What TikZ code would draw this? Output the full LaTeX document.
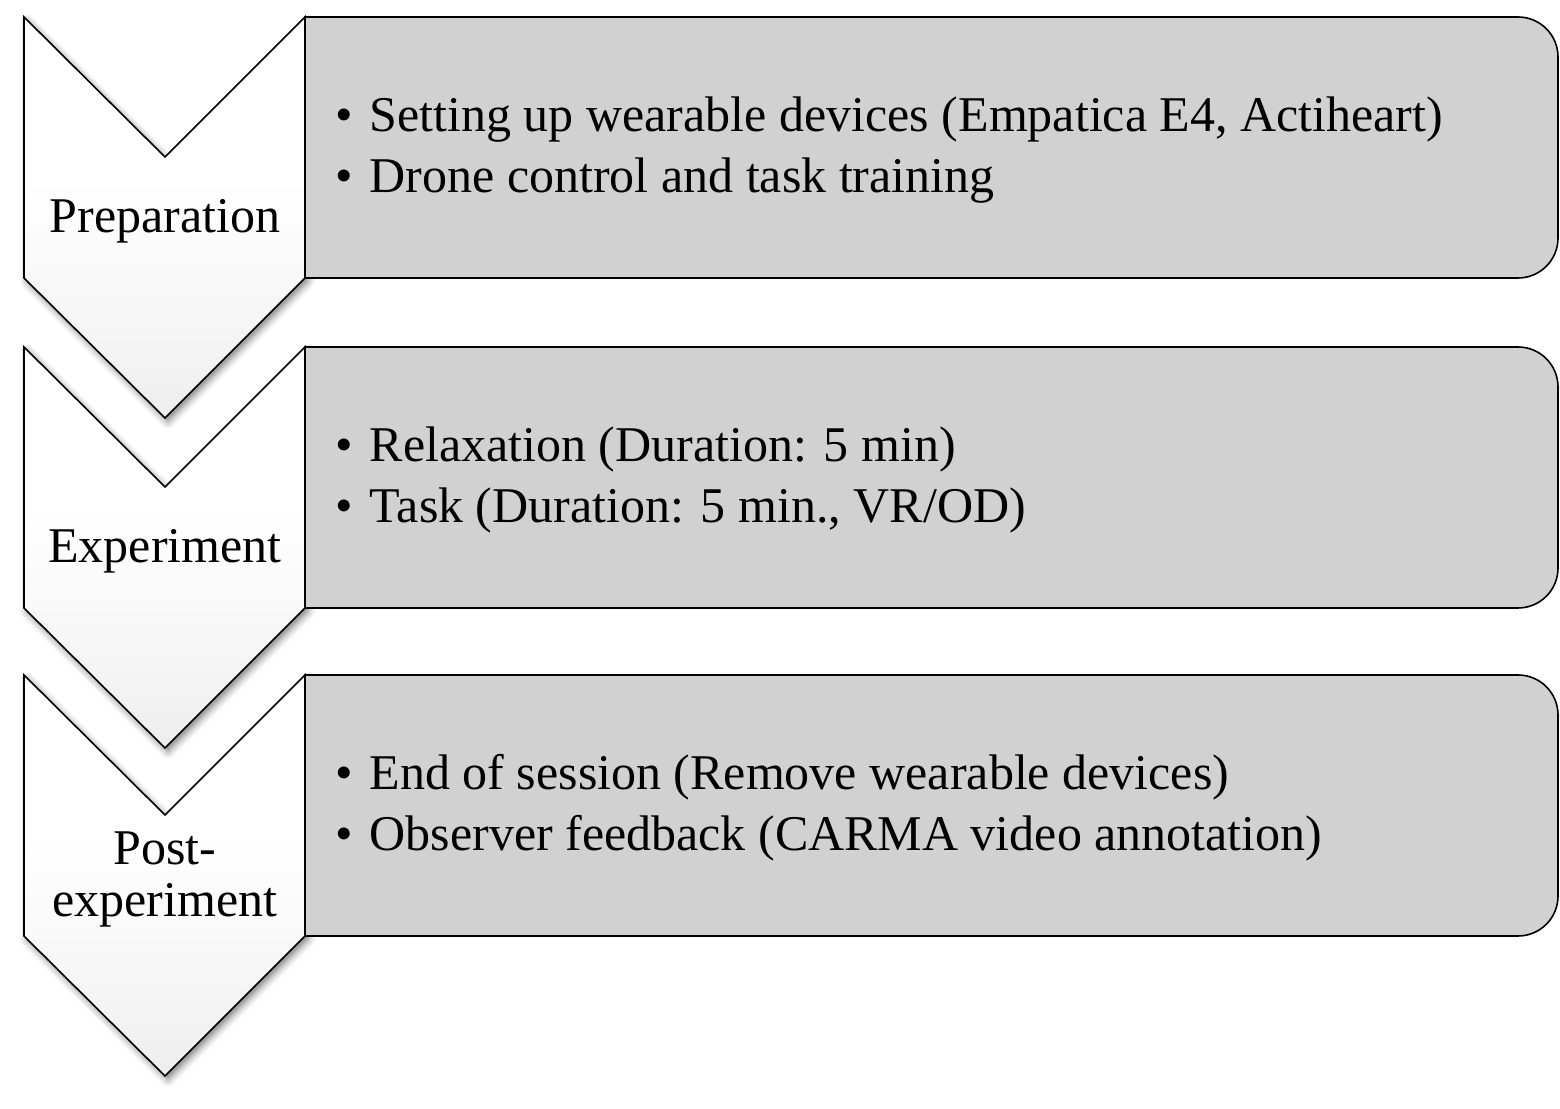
\documentclass[tikz,border=0pt]{standalone}
\usepackage{fontspec}
\setmainfont{Liberation Serif}
\usetikzlibrary{shadows.blur}
\pgfdeclareverticalshading{chevshade}{100bp}{color(0bp)=(black!14); color(35bp)=(black!4); color(55bp)=(white); color(100bp)=(white)}
\tikzset{
  chev/.style={draw=black, line width=1.6pt, line join=miter, shading=chevshade,
    blur shadow={shadow xshift=3pt, shadow yshift=-4pt, shadow blur radius=7pt, shadow opacity=50}},
  panel/.style={draw=black, line width=1.6pt, fill=black!18},
  bul/.style={anchor=base west, inner sep=0pt, font=\fontsize{50}{60}\selectfont},
  lab/.style={anchor=base, inner sep=0pt, font=\fontsize{50}{52}\selectfont},
}
\newcommand{\chevron}[1]{%
  \path[chev] (24,#1) -- (165,#1-140) -- (305,#1) -- (305,#1-261) -- (165,#1-401) -- (24,#1-261) -- cycle;}
\newcommand{\panelbox}[1]{%
  \path[panel] (305,#1-261) -- (305,#1) -- (1518,#1) arc[start angle=90,end angle=0,radius=40] -- (1558,#1-221) arc[start angle=0,end angle=-90,radius=40] -- cycle;}
\begin{document}
\begin{tikzpicture}[x=1pt,y=1pt]
\useasboundingbox (0,0) rectangle (1560,1108);
% chevrons
\chevron{1091}
\chevron{761}
\chevron{433}
% panels
\panelbox{1091}
\panelbox{761}
\panelbox{433}
% chevron labels
\node[lab] (l1) at (165,875) {Preparation};
\node[lab] (l2) at (165,545) {Experiment};
\node[lab] (l3a) at (165,243) {Post-};
\node[lab] (l3b) at (165,191) {experiment};
% panel texts
\node[bul] (p1a) at (335,976) {•\hspace{17pt}Setting up wearable devices (Empatica E4, Actiheart)};
\node[bul] (p1b) at (335,915) {•\hspace{17pt}Drone control and task training};
\node[bul] (p2a) at (335,646) {•\hspace{17pt}Relaxation (Duration: 5 min)};
\node[bul] (p2b) at (335,585) {•\hspace{17pt}Task (Duration: 5 min., VR/OD)};
\node[bul] (p3a) at (335,318) {•\hspace{17pt}End of session (Remove wearable devices)};
\node[bul] (p3b) at (335,257) {•\hspace{17pt}Observer feedback (CARMA video annotation)};
\end{tikzpicture}
\end{document}
